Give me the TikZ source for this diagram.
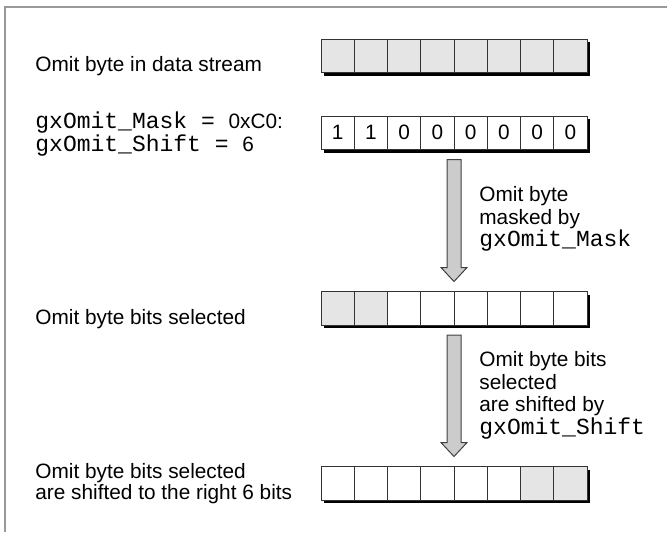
\documentclass[tikz,border=0pt]{standalone}
\usepackage{fontspec}
\setmainfont{Liberation Sans}
\setmonofont{Liberation Mono}
\usetikzlibrary{positioning}
\usetikzlibrary{calc}
\usetikzlibrary{backgrounds}
\definecolor{bitgray}{gray}{0.9}
\definecolor{arrowgray}{gray}{0.8}
\definecolor{framegray}{gray}{0.6}
\tikzstyle{cell} = [draw = black!80, line width = 0.5pt, fill = white, rectangle, minimum width = 16.625pt, minimum height = 16.75pt, inner sep = 0pt, outer sep = 0pt, font = \fontsize{10.4}{12}\selectfont]
\tikzstyle{graycell} = [cell, fill = bitgray]
\tikzstyle{desc} = [inner sep = 0pt, align = left, font = \fontsize{10.4}{10.5}\selectfont]
\tikzstyle{note} = [inner sep = 0pt, align = left, font = \fontsize{10.4}{11.25}\selectfont]
\tikzstyle{shade} = [fill = black]
\tikzstyle{bigarrow} = [draw = black!75, line width = 0.5pt, fill = arrowgray]
\newcommand{\codetxt}[1]{{\fontsize{11.5}{11}\selectfont\ttfamily #1}}

\begin{document}
\begin{tikzpicture}[x = 0.5pt, y = -0.5pt]
	\useasboundingbox (0,0) rectangle (667,532);
	
	% Frame
	\draw[framegray, line width = 0.75pt] (667,7) -- (5,7) -- (5,532);
	
	% Data stream byte
	\node[graycell, anchor = north west] (r1c1) at (321,39) {};
	\foreach \j in {2,...,8} {
		\pgfmathtruncatemacro\i{\j-1}
		\node[graycell, right = 0pt of r1c\i] (r1c\j) {};
	}
	\node[desc, anchor = base west] (t1) at (35,71.5) {Omit byte in data stream};
	
	% Mask byte
	\node[cell, anchor = north west] (r2c1) at (321,116) {1};
	\foreach \d [count = \j from 2] in {1,0,0,0,0,0,0} {
		\pgfmathtruncatemacro\i{\j-1}
		\node[cell, right = 0pt of r2c\i] (r2c\j) {\d};
	}
	\node[desc, anchor = base west] (t2) at (35,151.5) {\codetxt{gxOmit\_Mask = }0xC0:\\\codetxt{gxOmit\_Shift = }6};
	
	% Selected bits
	\node[graycell, anchor = north west] (r3c1) at (321,291.5) {};
	\foreach \j in {2,...,8} {
		\pgfmathtruncatemacro\i{\j-1}
		\ifnum\j<3
			\node[graycell, right = 0pt of r3c\i] (r3c\j) {};
		\else
			\node[cell, right = 0pt of r3c\i] (r3c\j) {};
		\fi
	}
	\node[desc, anchor = base west] (t3) at (35,324.5) {Omit byte bits selected};
	
	% Shifted bits
	\node[cell, anchor = north west] (r4c1) at (321,466.5) {};
	\foreach \j in {2,...,8} {
		\pgfmathtruncatemacro\i{\j-1}
		\ifnum\j>6
			\node[graycell, right = 0pt of r4c\i] (r4c\j) {};
		\else
			\node[cell, right = 0pt of r4c\i] (r4c\j) {};
		\fi
	}
	\node[desc, anchor = base west] (t4) at (35,499) {Omit byte bits selected\\are shifted to the right 6 bits};
	
	% Shadows
	\begin{scope}[on background layer]
		\fill[shade] ($(r1c1.north west)+(3,3)$) rectangle ($(r1c8.south east)+(3,3)$);
		\fill[shade] ($(r2c1.north west)+(3,3)$) rectangle ($(r2c8.south east)+(3,3)$);
		\fill[shade] ($(r3c1.north west)+(3,3)$) rectangle ($(r3c8.south east)+(3,3)$);
		\fill[shade] ($(r4c1.north west)+(3,3)$) rectangle ($(r4c8.south east)+(3,3)$);
	\end{scope}
	
	% Arrows
	\coordinate[below = 5pt of r2c4.south east] (a1top);
	\coordinate[above = 5pt of r3c4.north east] (a1tip);
	\coordinate[below = 5pt of r3c4.south east] (a2top);
	\coordinate[above = 5pt of r4c4.north east] (a2tip);
	\draw[bigarrow] ($(a1top)+(-7,0)$) -- ($(a1tip)+(-7,-14)$) -- ($(a1tip)+(-13,-14)$) -- (a1tip)
		-- ($(a1tip)+(13,-14)$) -- ($(a1tip)+(7,-14)$) -- ($(a1top)+(7,0)$) -- cycle;
	\draw[bigarrow] ($(a2top)+(-7,0)$) -- ($(a2tip)+(-7,-14)$) -- ($(a2tip)+(-13,-14)$) -- (a2tip)
		-- ($(a2tip)+(13,-14)$) -- ($(a2tip)+(7,-14)$) -- ($(a2top)+(7,0)$) -- cycle;
	
	% Arrow notes
	\node[note, anchor = base west] (m1) at (479,246.5) {Omit byte\\masked by\\\codetxt{gxOmit\_Mask}};
	\node[note, anchor = base west] (m2) at (479,434) {Omit byte bits\\selected\\are shifted by\\\codetxt{gxOmit\_Shift}};
	
\end{tikzpicture}
\end{document}
